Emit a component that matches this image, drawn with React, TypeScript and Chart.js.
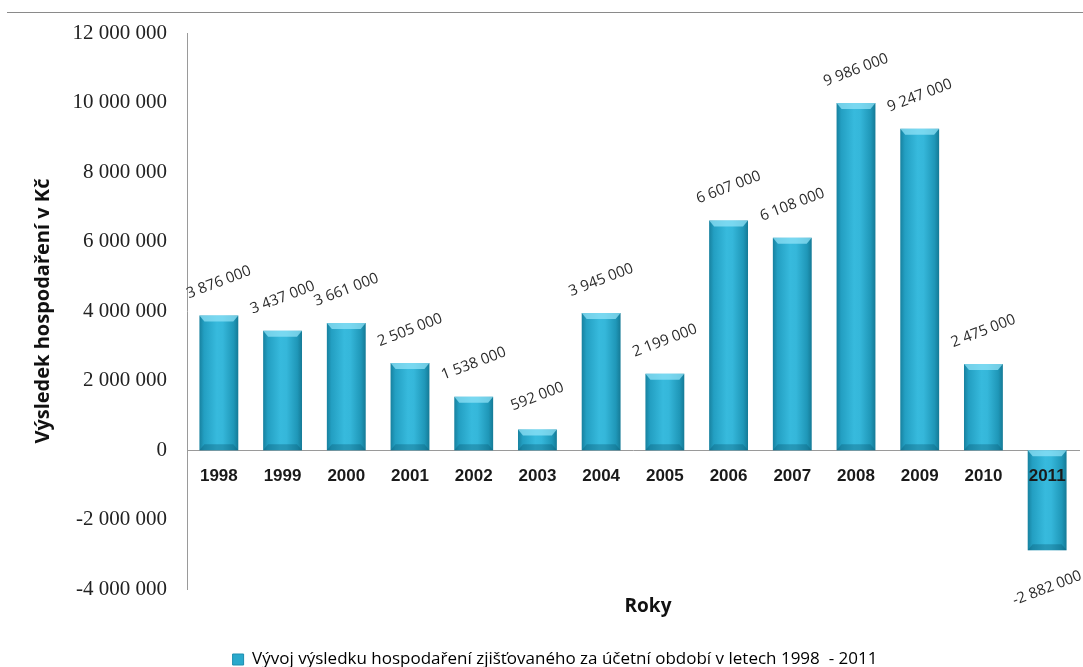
import React, { useEffect, useRef } from "react";
import { Chart, registerables } from "chart.js";

Chart.register(...registerables);

const years = ["1998", "1999", "2000", "2001", "2002", "2003", "2004", "2005", "2006", "2007", "2008", "2009", "2010", "2011"];
const values = [3876000, 3437000, 3661000, 2505000, 1538000, 592000, 3945000, 2199000, 6607000, 6108000, 9986000, 9247000, 2475000, -2882000];
const seriesLabel = "Vývoj výsledku hospodaření zjišťovaného za účetní období v letech 1998  - 2011";
const yMin = -4000000;
const yMax = 12000000;
const yStep = 2000000;
const yTitle = "Výsledek hospodaření v Kč";
const xTitle = "Roky";

const BAR_PCT = 0.61;

function fmt(n: number): string {
  const s = String(Math.abs(Math.round(n))).replace(/\B(?=(\d{3})+(?!\d))/g, " ");
  return (n < 0 ? "-" : "") + s;
}

const decorPlugin = {
  id: "decor",
  beforeDraw(chart: any) {
    const c = chart.ctx;
    c.save();
    c.strokeStyle = "#8a8a8a";
    c.lineWidth = 1;
    c.beginPath();
    c.moveTo(7, 12.5);
    c.lineTo(chart.width, 12.5);
    c.stroke();
    c.restore();
  },
  afterDatasetsDraw(chart: any) {
    const c = chart.ctx;
    const meta = chart.getDatasetMeta(0);
    c.save();
    meta.data.forEach((el: any, i: number) => {
      const p = el.getProps(["x", "y", "base", "width"], true);
      const left = p.x - p.width / 2;
      const right = p.x + p.width / 2;
      const top = Math.min(p.y, p.base);
      const bottom = Math.max(p.y, p.base);
      const bev = Math.min(6, (bottom - top) / 3);
      c.fillStyle = "rgba(150, 230, 250, 0.7)";
      c.beginPath();
      c.moveTo(left, top);
      c.lineTo(right, top);
      c.lineTo(right - 5, top + bev);
      c.lineTo(left + 5, top + bev);
      c.closePath();
      c.fill();
      c.fillStyle = "rgba(10, 90, 115, 0.35)";
      c.beginPath();
      c.moveTo(left, bottom);
      c.lineTo(right, bottom);
      c.lineTo(right - 5, bottom - bev);
      c.lineTo(left + 5, bottom - bev);
      c.closePath();
      c.fill();
      const v = values[i];
      const ly = v >= 0 ? p.y - 33 : p.y + 38;
      c.save();
      c.translate(p.x, ly);
      c.rotate((-21 * Math.PI) / 180);
      c.font = '15px "Open Sans", sans-serif';
      c.fillStyle = "#2b2b2b";
      c.textAlign = "center";
      c.textBaseline = "middle";
      c.fillText(fmt(v), 0, 0);
      c.restore();
    });
    c.restore();
  },
  afterDraw(chart: any) {
    const c = chart.ctx;
    c.save();
    c.font = 'bold 19px "Open Sans", sans-serif';
    c.fillStyle = "#111";
    c.textAlign = "center";
    c.textBaseline = "middle";
    c.fillText(xTitle, 648, chart.chartArea.bottom + 17);
    c.restore();
  },
};

export default function App() {
  const ref = useRef<HTMLCanvasElement | null>(null);
  useEffect(() => {
    if (!ref.current) return;
    const chart = new Chart(ref.current, {
      type: "bar",
      data: {
        labels: years,
        datasets: [
          {
            label: seriesLabel,
            data: values,
            barPercentage: BAR_PCT,
            categoryPercentage: 1,
            borderWidth: 0,
            backgroundColor: (ctx: any) => {
              const chart = ctx.chart;
              const xs = chart.scales && chart.scales.x;
              if (!xs || !chart.chartArea || ctx.dataIndex === undefined) return "#2aa9cc";
              const cx = xs.getPixelForValue(ctx.dataIndex);
              const w = (xs.width / years.length) * BAR_PCT;
              const g = chart.ctx.createLinearGradient(cx - w / 2, 0, cx + w / 2, 0);
              g.addColorStop(0, "#17819f");
              g.addColorStop(0.12, "#239fc2");
              g.addColorStop(0.45, "#37badd");
              g.addColorStop(0.6, "#35b7da");
              g.addColorStop(0.88, "#1f97b8");
              g.addColorStop(1, "#157a96");
              return g;
            },
          },
        ],
      },
      options: {
        animation: false,
        responsive: false,
        devicePixelRatio: 1,
        layout: { padding: { left: 31, right: 4, top: 33, bottom: -11 } },
        scales: {
          x: {
            position: { y: 0 } as any,
            grid: { display: false, drawTicks: false },
            border: { display: true, color: "#9a9a9a", width: 1 },
            ticks: {
              z: 1,
              padding: 16,
              color: "#1a1a1a",
              font: { family: '"Liberation Sans Narrow", "Liberation Sans", sans-serif', size: 17, weight: "bold" },
              maxRotation: 0,
              autoSkip: false,
            },
          },
          y: {
            min: yMin,
            max: yMax,
            grid: { display: false, drawTicks: false },
            border: { display: true, color: "#9a9a9a", width: 1 },
            afterFit: (s: any) => {
              s.width = 156;
            },
            ticks: {
              stepSize: yStep,
              padding: 20,
              color: "#222",
              font: { family: '"Liberation Serif", serif', size: 21 },
              callback: (v: any) => fmt(Number(v)),
            },
            title: {
              display: true,
              text: yTitle,
              color: "#111",
              font: { family: '"Open Sans", sans-serif', size: 20, weight: "bold" },
              padding: { top: 0, bottom: 0 },
            },
          },
        },
        plugins: {
          title: {
            display: true,
            text: " ",
            position: "bottom",
            weight: 500,
            font: { family: '"Open Sans", sans-serif', size: 19, weight: "bold" },
            padding: { top: 6, bottom: 31 },
          } as any,
          legend: {
            display: true,
            position: "bottom",
            labels: {
              boxWidth: 11,
              boxHeight: 11,
              padding: 2,
              color: "#444",
              font: { family: '"Open Sans", sans-serif', size: 17 },
              generateLabels: () => [
                {
                  text: seriesLabel,
                  fillStyle: "#2aa9cc",
                  strokeStyle: "#1d8fb0",
                  lineWidth: 1,
                  hidden: false,
                  datasetIndex: 0,
                },
              ],
            },
          },
          tooltip: { enabled: false },
        },
      },
      plugins: [decorPlugin],
    });
    return () => chart.destroy();
  }, []);
  return (
    <div style={{ position: "absolute", left: 0, top: 0, width: 1083, height: 667 }}>
      <canvas ref={ref} width={1083} height={667} />
    </div>
  );
}
